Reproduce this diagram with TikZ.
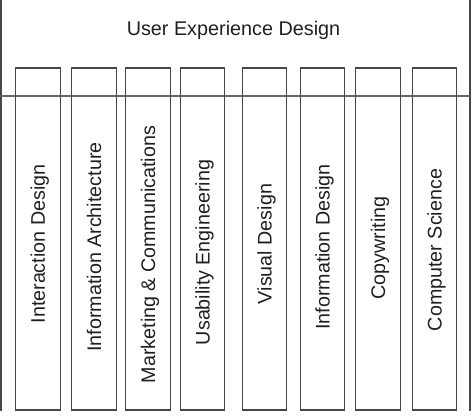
\documentclass[tikz,border=0pt]{standalone}
\usepackage{fontspec}
\setmainfont{Liberation Sans}
\begin{document}
\begin{tikzpicture}[x=1pt,y=-1pt,
  col/.style={draw=black!72, line width=1.1pt, minimum width=44.5pt, minimum height=342pt, inner sep=0pt},
  vlabel/.style={rotate=90, anchor=base, font=\fontsize{19.7}{22}\selectfont, inner sep=0pt, text=black!88},
  titlestyle/.style={anchor=base, font=\fontsize{19.8}{22}\selectfont, inner sep=0pt, text=black!88},
  frameline/.style={draw=black!72, line width=2.4pt},
  dividerline/.style={draw=black!60, line width=1.4pt}]
\useasboundingbox (0,0) rectangle (472,418);
% outer frame
\coordinate (tl) at (1.2,0);
\coordinate (bl) at (1.2,411);
\coordinate (tr) at (469.8,0);
\coordinate (br) at (469.8,411);
\coordinate (ml) at (1.2,96);
\coordinate (mr) at (469.8,96);
\draw[frameline] (tl) -- (bl);
\draw[frameline] (tr) -- (br);
\draw[dividerline] (ml) -- (mr);
\node[titlestyle] (title) at (233.5,35) {User Experience Design};
% columns
\node[col] (c1) at (38,239) {};
\node[col] (c2) at (94,239) {};
\node[col] (c3) at (148,239) {};
\node[col] (c4) at (202.5,239) {};
\node[col] (c5) at (264.5,239) {};
\node[col] (c6) at (322.5,239) {};
\node[col] (c7) at (378,239) {};
\node[col] (c8) at (434.5,239) {};
% labels
\node[vlabel] (t1) at (45,244) {Interaction Design};
\node[vlabel] (t2) at (101,247) {Information Architecture};
\node[vlabel] (t3) at (155,254.5) {Marketing \& Communications};
\node[vlabel] (t4) at (209.5,252.5) {Usability Engineering};
\node[vlabel] (t5) at (271.5,244) {Visual Design};
\node[vlabel] (t6) at (329.5,247) {Information Design};
\node[vlabel] (t7) at (385,248) {Copywriting};
\node[vlabel] (t8) at (441.5,250) {Computer Science};
\end{tikzpicture}
\end{document}
